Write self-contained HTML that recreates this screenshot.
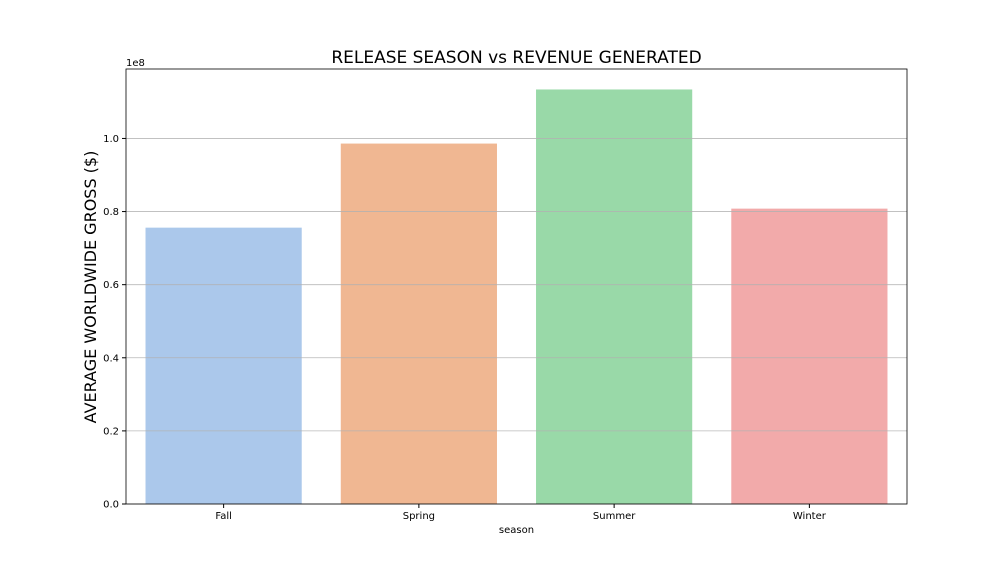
<!DOCTYPE html>
<html><head><meta charset="utf-8"><style>
body{margin:0;background:#fff;}
svg text{font-family:"DejaVu Sans","Liberation Sans",sans-serif;}
</style></head><body>
<svg id="chart" width="1008" height="576">
<text x="516.5" y="63" text-anchor="middle" font-size="17">RELEASE SEASON vs REVENUE GENERATED</text>
<text x="126" y="66" font-size="10">1e8</text>
<text transform="translate(96,287) rotate(-90)" text-anchor="middle" font-size="16">AVERAGE WORLDWIDE GROSS ($)</text>
<text x="516.5" y="533" text-anchor="middle" font-size="10">season</text>
<g id="grid"></g><g id="bars"></g><g id="ticks"></g>
<rect x="126" y="69" width="781" height="435" fill="none" stroke="#000" stroke-width="0.8"/>
</svg>
<script>
const categories=["Fall","Spring","Summer","Winter"];
const values=[0.756e8,0.986e8,1.134e8,0.808e8];
const colors=["#abc8eb","#f0b792","#99d9a8","#f2aaaa"];
const yTicks=[0,0.2e8,0.4e8,0.6e8,0.8e8,1.0e8];
const yTickLabels=["0.0","0.2","0.4","0.6","0.8","1.0"];
const ns="http://www.w3.org/2000/svg";
const L=126,R=907,T=69,B=504,yMax=1.19e8;
const y=v=>B-(v/yMax)*(B-T);
const bw=(R-L)/categories.length;
const x=i=>L+bw*i+bw/2;
function mk(t,a,p){const e=document.createElementNS(ns,t);for(const k in a)e.setAttribute(k,a[k]);p.appendChild(e);return e;}
const g=document.getElementById('grid'),bs=document.getElementById('bars'),tk=document.getElementById('ticks');
categories.forEach((c,i)=>{
 const r=mk('rect',{x:x(i)-bw*0.4,y:y(values[i]),width:bw*0.8,height:B-y(values[i]),fill:colors[i]},bs);
 
 
 mk('line',{x1:x(i),x2:x(i),y1:B,y2:B+4,stroke:'#000'},tk);
 const t=mk('text',{x:x(i),y:B+15,'text-anchor':'middle','font-size':10},tk);t.textContent=c;
 
 
});
yTicks.forEach((v,i)=>{
 const l=mk('line',{x1:L,x2:R,y1:y(v),y2:y(v),stroke:'#b0b0b0','stroke-width':0.8,'stroke-opacity':0.9},g);
 
 
 mk('line',{x1:L-4,x2:L,y1:y(v),y2:y(v),stroke:'#000'},tk);
 const t=mk('text',{x:L-7,y:y(v)+3.5,'text-anchor':'end','font-size':10},tk);t.textContent=yTickLabels[i];
 
 
});
document.getElementById('chart').insertBefore(g,tk);
</script>
</body></html>
